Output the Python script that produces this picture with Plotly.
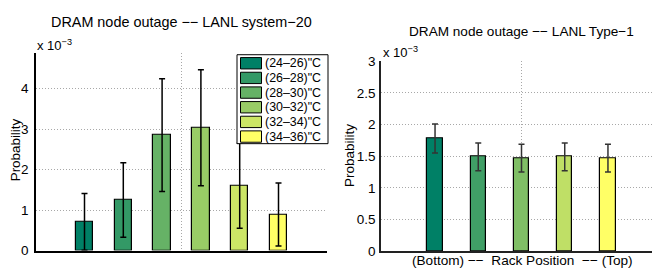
import plotly.graph_objects as go

# ---------------- data ----------------
temp_labels = ['(24–26)"C', '(26–28)"C', '(28–30)"C', '(30–32)"C', '(32–34)"C', '(34–36)"C']
temp_prob = [0.71, 1.25, 2.85, 3.03, 1.60, 0.89]          # x 10^-3
temp_err = [0.70, 0.92, 1.39, 1.43, 1.05, 0.78]            # x 10^-3

rack_labels = ["1", "2", "3", "4", "5"]
rack_prob = [1.78, 1.49, 1.47, 1.49, 1.47]                 # x 10^-3
rack_err = [0.23, 0.22, 0.22, 0.22, 0.22]                  # x 10^-3

left_yticks = [0, 1, 2, 3, 4]
right_yticks = [0, 0.5, 1, 1.5, 2, 2.5, 3]
right_yticktext = ["0", "0.5", "1", "1.5", "2", "2.5", "3"]

title_left = "DRAM node outage −− LANL system−20"
title_right = "DRAM node outage −− LANL Type−1"
xlabel_right = "(Bottom) −−\u00a0\u00a0Rack Position\u00a0\u00a0−− (Top)"
ylabel = "Probability"


def summer(n):
    cols = []
    for i in range(n):
        t = i / (n - 1)
        r, g, b = t, 0.5 + 0.5 * t, 0.4
        cols.append("rgb(%d,%d,%d)" % (round(r * 255), round(g * 255), round(b * 255)))
    return cols


W, H = 660, 278
OX, OY = 8, 8   # page body offset of the figure div
FONT = "Liberation Sans, Arial, Helvetica, sans-serif"


def px(x):
    return (x - OX) / W


def py(y):
    return (H - (y - OY)) / H


left_colors = summer(len(temp_prob))
right_colors = summer(len(rack_prob))

left_x = list(range(1, len(temp_prob) + 1))
right_x = list(range(1, len(rack_prob) + 1))

fig = go.Figure()

fig.add_trace(go.Bar(
    x=left_x, y=temp_prob, width=0.45,
    marker=dict(color=left_colors, line=dict(color="black", width=1.2)),
    error_y=dict(type="data", array=temp_err, color="black", thickness=1.5, width=3),
    xaxis="x", yaxis="y", showlegend=False, hoverinfo="skip",
))

fig.add_trace(go.Bar(
    x=right_x, y=rack_prob, width=0.35,
    marker=dict(color=right_colors, line=dict(color="black", width=1.2)),
    error_y=dict(type="data", array=rack_err, color="#333333", thickness=1.5, width=3),
    xaxis="x2", yaxis="y2", showlegend=False, hoverinfo="skip",
))

grid = dict(showgrid=True, gridcolor="#a8a8a8", griddash="1px,2px", gridwidth=1)

fig.update_layout(
    width=W, height=H,
    margin=dict(l=0, r=0, t=0, b=0),
    paper_bgcolor="white", plot_bgcolor="white",
    font=dict(family=FONT, size=13, color="black"),
    showlegend=False,
    bargap=0,
    xaxis=dict(domain=[px(36), px(327)], range=[-0.25, 7.25],
               tickvals=[3.5], showticklabels=False, ticks="",
               showline=True, linecolor="black", linewidth=1.5,
               zeroline=False, anchor="y", **grid),
    yaxis=dict(domain=[py(257), py(48)], range=[0, 4.88],
               tickvals=left_yticks, ticks="",
               showline=True, linecolor="black", linewidth=1.5,
               zeroline=False, anchor="x", tickfont=dict(size=13.5),
               ticklabelstandoff=3, **grid),
    xaxis2=dict(domain=[px(381), px(662)], range=[-0.25, 6.25],
                tickvals=[3], showticklabels=False, ticks="",
                showline=True, linecolor="#222222", linewidth=1.5,
                zeroline=False, anchor="y2", **grid),
    yaxis2=dict(domain=[py(257.5), py(57)], range=[0, 3],
                tickvals=right_yticks, ticktext=right_yticktext, ticks="",
                showline=True, linecolor="#222222", linewidth=1.5,
                zeroline=False, anchor="x2", tickfont=dict(size=13.5),
                ticklabelstandoff=1, **grid),
)

ann = []
# titles
ann.append(dict(text=title_left, x=px(181.5), y=py(15), xref="paper", yref="paper",
                showarrow=False, font=dict(size=14.4), xanchor="center", yanchor="middle"))
ann.append(dict(text=title_right, x=px(521.5), y=py(25), xref="paper", yref="paper",
                showarrow=False, font=dict(size=13.6), xanchor="center", yanchor="middle"))
# y labels
ann.append(dict(text=ylabel, x=px(15), y=py(151), xref="paper", yref="paper", textangle=-90,
                showarrow=False, font=dict(size=13.4), xanchor="center", yanchor="middle"))
ann.append(dict(text=ylabel, x=px(350), y=py(157), xref="paper", yref="paper", textangle=-90,
                showarrow=False, font=dict(size=13.5), xanchor="center", yanchor="middle"))
# x label right
ann.append(dict(text=xlabel_right, x=px(522), y=py(268), xref="paper", yref="paper",
                showarrow=False, font=dict(size=13.6), xanchor="center", yanchor="middle"))
# exponent labels
ann.append(dict(text="x 10<sup>−3</sup>", x=px(35), y=py(40), xref="paper", yref="paper",
                showarrow=False, font=dict(size=13), xanchor="left", yanchor="middle"))
ann.append(dict(text="x 10<sup>−3</sup>", x=px(381), y=py(47), xref="paper", yref="paper",
                showarrow=False, font=dict(size=13), xanchor="left", yanchor="middle"))

shapes = []
# custom legend (left panel)
shapes.append(dict(type="rect", xref="paper", yref="paper",
                   x0=px(237), x1=px(328), y0=py(144), y1=py(50),
                   line=dict(color="black", width=1), fillcolor="white", layer="above"))
for i, (lab, col) in enumerate(zip(temp_labels, left_colors)):
    yc = 59 + 15.5 * i
    shapes.append(dict(type="rect", xref="paper", yref="paper",
                       x0=px(240.5), x1=px(261.5), y0=py(yc + 6), y1=py(yc - 6),
                       line=dict(color="black", width=1), fillcolor=col, layer="above"))
    ann.append(dict(text=lab, x=px(262.5), y=py(yc), xref="paper", yref="paper",
                    showarrow=False, font=dict(size=12.4), xanchor="left", yanchor="middle"))

fig.update_layout(annotations=ann, shapes=shapes)

fig.write_html("out.html")
